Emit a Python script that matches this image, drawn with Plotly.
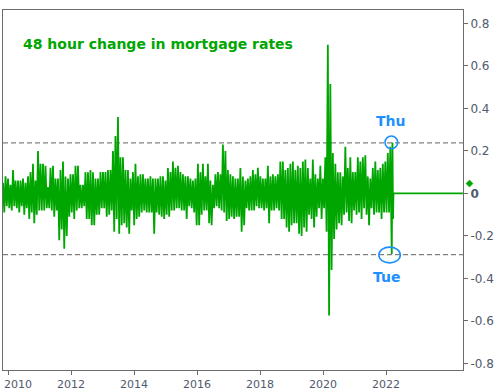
import plotly.graph_objects as go

# ---- data ----
start_year = 2009.841     # first sample (left edge of the plot)
step_year = 0.0793        # spacing between hi/lo sample pairs

hi = [
    0.05, 0.08, 0.07, 0.04, 0.11, 0.06, 0.06, 0.06, 0.07, 0.05, 0.08, 0.10, 0.14, 0.06, 0.20, 0.14, 0.14, 0.13, 0.03, 0.12,
    0.13, 0.07, 0.07, 0.11, 0.15, 0.08, 0.07, 0.09, 0.09, 0.13, 0.13, 0.04, 0.04, 0.10, 0.10, 0.11, 0.10, 0.07, 0.07, 0.10,
    0.10, 0.10, 0.11, 0.11, 0.20, 0.27, 0.36, 0.17, 0.17, 0.11, 0.11, 0.07, 0.10, 0.14, 0.08, 0.09, 0.09, 0.07, 0.07, 0.08,
    0.07, 0.07, 0.07, 0.08, 0.08, 0.06, 0.12, 0.10, 0.15, 0.12, 0.13, 0.10, 0.09, 0.08, 0.08, 0.07, 0.06, 0.07, 0.14, 0.10,
    0.14, 0.08, 0.14, 0.06, 0.04, 0.09, 0.10, 0.09, 0.23, 0.20, 0.11, 0.09, 0.08, 0.07, 0.07, 0.12, 0.08, 0.06, 0.07, 0.08,
    0.11, 0.09, 0.12, 0.08, 0.07, 0.07, 0.13, 0.08, 0.09, 0.08, 0.09, 0.15, 0.15, 0.11, 0.12, 0.14, 0.15, 0.11, 0.13, 0.12,
    0.15, 0.16, 0.12, 0.07, 0.16, 0.09, 0.07, 0.13, 0.07, 0.17, 0.70, 0.515, 0.19, 0.14, 0.10, 0.10, 0.08, 0.22, 0.12, 0.17,
    0.10, 0.10, 0.17, 0.15, 0.17, 0.18, 0.08, 0.07, 0.12, 0.15, 0.11, 0.12, 0.14, 0.15, 0.19, 0.22,
]
lo = [
    -0.09, -0.06, -0.07, -0.08, -0.06, -0.07, -0.09, -0.06, -0.10, -0.07, -0.12, -0.09, -0.14, -0.10, -0.08, -0.08, -0.08, -0.07, -0.07, -0.08,
    -0.11, -0.08, -0.22, -0.17, -0.26, -0.20, -0.11, -0.09, -0.12, -0.08, -0.07, -0.07, -0.06, -0.12, -0.12, -0.15, -0.15, -0.10, -0.10, -0.07,
    -0.07, -0.11, -0.10, -0.08, -0.18, -0.12, -0.19, -0.15, -0.14, -0.16, -0.19, -0.08, -0.15, -0.12, -0.11, -0.09, -0.08, -0.09, -0.09, -0.09,
    -0.19, -0.09, -0.10, -0.11, -0.12, -0.10, -0.11, -0.08, -0.08, -0.07, -0.07, -0.08, -0.08, -0.12, -0.06, -0.07, -0.09, -0.15, -0.15, -0.10,
    -0.08, -0.08, -0.14, -0.15, -0.07, -0.06, -0.07, -0.08, -0.09, -0.13, -0.12, -0.11, -0.12, -0.11, -0.11, -0.18, -0.15, -0.07, -0.08, -0.08,
    -0.08, -0.06, -0.07, -0.07, -0.08, -0.07, -0.14, -0.08, -0.08, -0.07, -0.08, -0.12, -0.12, -0.16, -0.18, -0.15, -0.14, -0.14, -0.19, -0.20,
    -0.16, -0.18, -0.10, -0.12, -0.16, -0.11, -0.07, -0.12, -0.07, -0.18, -0.575, -0.36, -0.215, -0.17, -0.14, -0.15, -0.10, -0.09, -0.13, -0.14,
    -0.08, -0.10, -0.09, -0.12, -0.07, -0.10, -0.15, -0.07, -0.10, -0.09, -0.09, -0.12, -0.09, -0.09, -0.09, -0.12,
]

# final days: Tue low, Thu high, then flat projection
tail_years = [2022.179, 2022.201, 2022.220, 2022.233, 2024.437]
tail_vals = [-0.285, 0.24, -0.12, 0.0, 0.0]

tue_year, tue_val = 2022.11, -0.29
thu_year, thu_val = 2022.166, 0.24
band_hi, band_lo = 0.238, -0.288
last_marker_val = 0.046

x_range = [2009.84, 2024.44]
y_range = [-0.831, 0.863]
y_ticks = [-0.8, -0.6, -0.4, -0.2, 0, 0.2, 0.4, 0.6, 0.8]
y_ticktext = ["-0.8", "-0.6", "-0.4", "-0.2", "<b>0</b>", "0.2", "0.4", "0.6", "0.8"]
x_ticks = [2010, 2012, 2014, 2016, 2018, 2020, 2022]
x_ticktext = ["", "2012", "2014", "2016", "2018", "2020", "2022"]
first_year_label = "2010"
title_text = "48 hour change in mortgage rates"

GREEN = "#00a600"
BLUE = "#1e8fff"
AXIS = "#6b6b6b"
TICKFONT = "#4f5a6b"

# interleave hi / lo samples into one zig-zag series
xs, ys = [], []
for i, (h, l) in enumerate(zip(hi, lo)):
    xs.append(start_year + i * step_year)
    ys.append(h)
    xs.append(start_year + (i + 0.5) * step_year)
    ys.append(l)
xs += tail_years
ys += tail_vals

fig = go.Figure()
fig.add_trace(go.Scatter(x=xs, y=ys, mode="lines",
                         line=dict(color=GREEN, width=1.8),
                         hoverinfo="skip", showlegend=False))

for yv in (band_hi, band_lo):
    fig.add_shape(type="line", xref="paper", x0=0, x1=1, yref="y", y0=yv, y1=yv,
                  line=dict(color="#808080", width=1.2, dash="5px,3px"), layer="below")

# last-value diamond just outside the right axis
fig.add_shape(type="path", xref="paper", yref="y", xsizemode="pixel", ysizemode="pixel",
              xanchor=1.0141, yanchor=last_marker_val,
              path="M 0 3.5 L 3.5 0 L 0 -3.5 L -3.5 0 Z",
              fillcolor=GREEN, line=dict(color=GREEN, width=0.5))

# circles around Thu / Tue
fig.add_shape(type="circle", xref="x", yref="y",
              x0=thu_year - 0.2, x1=thu_year + 0.2, y0=thu_val - 0.03, y1=thu_val + 0.03,
              line=dict(color=BLUE, width=1.6))
fig.add_shape(type="circle", xref="x", yref="y",
              x0=tue_year - 0.34, x1=tue_year + 0.34, y0=tue_val - 0.037, y1=tue_val + 0.037,
              line=dict(color=BLUE, width=1.6))

fig.add_annotation(x=2022.128, y=0.339, text="<b>Thu</b>", showarrow=False,
                   font=dict(family="DejaVu Sans", size=14, color=BLUE))
fig.add_annotation(x=2022.02, y=-0.395, text="<b>Tue</b>", showarrow=False,
                   font=dict(family="DejaVu Sans", size=14, color=BLUE))
fig.add_annotation(xref="paper", yref="paper", x=0.04, y=0.906, xanchor="left", yanchor="middle",
                   text="<b>" + title_text + "</b>", showarrow=False,
                   font=dict(family="DejaVu Sans", size=14, color=GREEN))
# first x label is pushed right so it stays inside the chart (as in the original)
fig.add_annotation(x=x_ticks[0], xref="x", yref="paper", y=0, xanchor="left", yanchor="middle",
                   xshift=-6, yshift=-14, text=first_year_label, showarrow=False,
                   font=dict(family="DejaVu Sans", size=11, color=TICKFONT))

fig.update_layout(
    width=498, height=390,
    margin=dict(l=3, r=35, t=10, b=20, autoexpand=False),
    paper_bgcolor="white", plot_bgcolor="white",
    showlegend=False,
    font=dict(family="DejaVu Sans", color=TICKFONT),
)
fig.update_xaxes(range=x_range, tickvals=x_ticks, ticktext=x_ticktext,
                 automargin=False, ticklabeloverflow="allow",
                 showgrid=False, zeroline=False,
                 showline=True, linecolor=AXIS, linewidth=1, mirror=True,
                 ticks="outside", ticklen=4, tickcolor=AXIS,
                 tickfont=dict(family="DejaVu Sans", size=11, color=TICKFONT))
fig.update_yaxes(range=y_range, side="right", tickvals=y_ticks, ticktext=y_ticktext,
                 automargin=False, ticklabeloverflow="allow",
                 showgrid=False, zeroline=False,
                 showline=True, linecolor=AXIS, linewidth=1, mirror=True,
                 ticks="outside", ticklen=4, tickcolor=AXIS,
                 tickfont=dict(family="DejaVu Sans", size=12, color=TICKFONT))

fig.write_html("out.html", config={"displayModeBar": False},
               post_script="document.body.style.margin='0px';document.body.style.overflow='hidden';")
